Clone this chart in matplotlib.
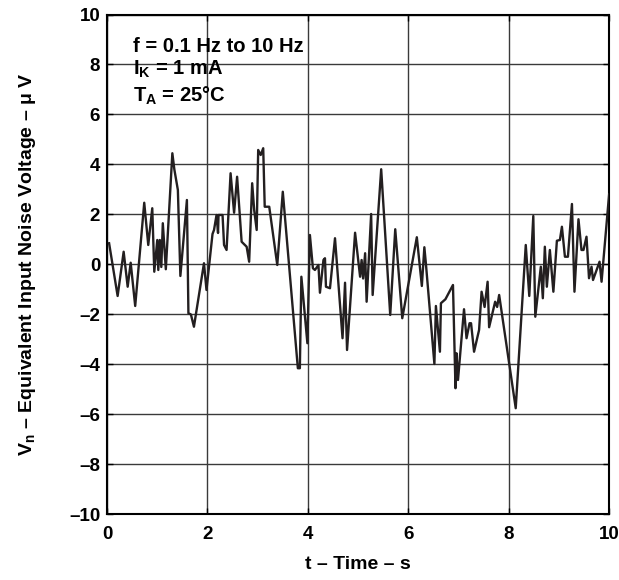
import matplotlib
matplotlib.use("Agg")
import matplotlib.pyplot as plt

plt.rcParams['font.family'] = ['Liberation Sans', 'DejaVu Sans']
plt.rcParams['font.weight'] = 'bold'
plt.rcParams['mathtext.fontset'] = 'custom'
plt.rcParams['mathtext.bf'] = 'Liberation Sans:bold'

# noise trace (time in s, voltage in uV)
t_s = [0.04, 0.21, 0.33, 0.41, 0.47, 0.56, 0.74, 0.82, 0.90, 0.94,
       1.00, 1.02, 1.05, 1.08, 1.11, 1.17, 1.30, 1.34, 1.41, 1.46,
       1.59, 1.62, 1.67, 1.73, 1.93, 1.98, 2.10, 2.13, 2.18, 2.21,
       2.22, 2.30, 2.33, 2.38, 2.46, 2.53, 2.59, 2.68, 2.78, 2.83,
       2.89, 2.93, 2.98, 3.01, 3.06, 3.11, 3.14, 3.23, 3.39, 3.50,
       3.80, 3.84, 3.87, 3.99, 4.04, 4.10, 4.14, 4.21, 4.24, 4.31,
       4.34, 4.36, 4.44, 4.54, 4.69, 4.74, 4.78, 4.94, 5.04, 5.07,
       5.10, 5.14, 5.17, 5.26, 5.29, 5.46, 5.64, 5.74, 5.88, 6.17,
       6.27, 6.32, 6.35, 6.52, 6.55, 6.63, 6.65, 6.74, 6.89, 6.94,
       6.96, 6.99, 7.11, 7.16, 7.22, 7.25, 7.31, 7.41, 7.46, 7.52,
       7.58, 7.61, 7.73, 7.77, 7.81, 8.14, 8.34, 8.41, 8.49, 8.53,
       8.64, 8.68, 8.72, 8.76, 8.82, 8.89, 8.96, 9.02, 9.06, 9.12,
       9.18, 9.26, 9.31, 9.39, 9.45, 9.49, 9.55, 9.60, 9.65, 9.68,
       9.81, 9.85, 10.0]
vn_uV = [0.85, -1.26, 0.51, -0.89, 0.07, -1.66, 2.47, 0.78, 2.25, -0.29,
         0.98, -0.22, 0.98, -0.10, 1.65, -0.19, 4.45, 3.80, 2.98, -0.46,
         2.58, -1.95, -2.00, -2.49, 0.05, -1.02, 1.22, 1.38, 1.98, 1.26,
         1.98, 1.98, 0.78, 0.58, 3.65, 2.07, 3.51, 0.91, 0.71, 0.11,
         3.25, 2.18, 1.38, 4.58, 4.38, 4.65, 2.31, 2.31, -0.02, 2.91,
         -4.15, -4.15, -0.49, -3.15, 1.18, -0.15, -0.22, -0.02, -1.13, 0.18,
         0.25, -0.89, -0.95, 1.05, -2.95, -0.73, -3.42, 1.27, -0.49, 0.18,
         -0.56, 0.45, -1.49, 2.02, -1.22, 3.81, -2.02, 1.41, -2.15, 1.09,
         -0.86, 0.69, 0.05, -3.98, -1.66, -3.49, -1.55, -1.39, -0.82, -4.95,
         -3.55, -4.62, -1.79, -2.95, -2.35, -2.35, -3.49, -2.62, -1.09, -1.70,
         -0.69, -2.51, -1.49, -1.70, -1.22, -5.75, 0.78, -1.26, 1.94, -2.09,
         -0.09, -1.35, 0.71, -0.89, 0.58, -1.09, 0.95, 0.98, 1.51, 0.31,
         0.31, 2.42, -1.09, 1.81, 0.58, 0.58, 1.11, -0.55, -0.09, -0.62,
         0.11, -0.69, 2.80]

x_ticks = [0, 2, 4, 6, 8, 10]
y_ticks = [-10, -8, -6, -4, -2, 0, 2, 4, 6, 8, 10]

fig = plt.figure(figsize=(6.19, 5.80), dpi=100)
ax = fig.add_axes([0.173, 0.113, 0.811, 0.862])

ax.plot(t_s, vn_uV, color='#231f20', linewidth=1.7, zorder=3)

ax.set_xlim(0, 10)
ax.set_ylim(-10, 10)
ax.set_xticks(x_ticks)
ax.set_yticks(y_ticks)
ax.set_xticklabels([str(v) for v in x_ticks])
ax.set_yticklabels([str(v).replace('-', '\u2013') for v in y_ticks])
ax.grid(True, color='#3a3a3a', linewidth=1.0)
ax.tick_params(direction='in', length=4, width=1, top=True, right=True,
               labelsize=13.5, colors='black')
ax.tick_params(axis='x', pad=8)
ax.tick_params(axis='y', pad=5)
for lab in ax.get_xticklabels() + ax.get_yticklabels():
    lab.set_fontweight('bold')
for sp in ax.spines.values():
    sp.set_linewidth(1.5)

ax.set_xlabel('t \u2013 Time \u2013 s', fontsize=14, fontweight='bold', labelpad=10)
ax.set_ylabel('V$_\\mathbf{n}$ \u2013 Equivalent Input Noise Voltage \u2013 \u03bc V',
              fontsize=14, fontweight='bold', labelpad=22)

ax.text(0.52, 8.51, 'f = 0.1 Hz to 10 Hz', fontsize=14.5, fontweight='bold',
        va='baseline')
ax.text(0.52, 7.58, 'I$_\\mathbf{K}$ = 1 mA', fontsize=14.5, fontweight='bold',
        va='baseline')
ax.text(0.52, 6.51, 'T$_\\mathbf{A}$ = 25\u00b0C', fontsize=14.5, fontweight='bold',
        va='baseline')

fig.savefig('out.png', dpi=100)
plt.close(fig)
